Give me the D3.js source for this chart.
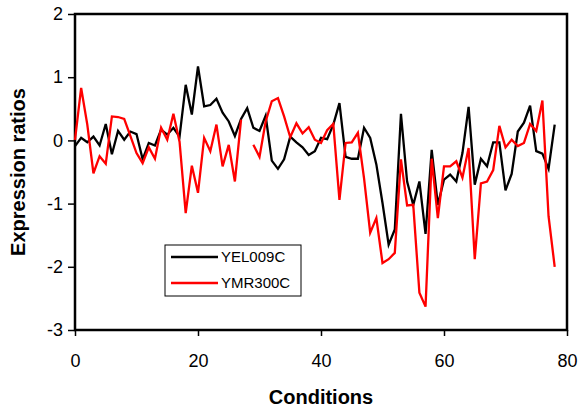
<!DOCTYPE html>
<html>
<head>
<meta charset="utf-8">
<script src="https://cdn.jsdelivr.net/npm/d3@7/dist/d3.min.js"></script>
<style>
  body { margin: 0; background: #fff; font-family: "Liberation Sans", Arial, sans-serif; }
</style>
</head>
<body>
<div id="chart"></div>
<script>
// expression ratios per condition (index = condition number 0..78)
var yel009c = [-0.09, 0.04, -0.03, 0.06, -0.08, 0.26, -0.22, 0.15, 0.01, 0.14,
  0.1, -0.3, -0.04, -0.08, 0.17, 0.09, 0.2, 0.06, 0.88, 0.41,
  1.17, 0.54, 0.56, 0.66, 0.44, 0.3, 0.07, 0.34, 0.51, 0.2,
  0.15, 0.39, -0.32, -0.45, -0.3, 0.06, -0.03, -0.11, -0.23, -0.17,
  0.04, 0.02, 0.25, 0.59, -0.26, -0.29, -0.29, 0.2, 0.04, -0.38,
  -0.99, -1.65, -1.41, 0.42, -0.65, -1.02, -0.65, -1.48, -0.15, -1.02,
  -0.62, -0.54, -0.65, -0.2, 0.53, -0.7, -0.29, -0.41, -0.03, -0.03,
  -0.79, -0.53, 0.14, 0.28, 0.55, -0.17, -0.21, -0.45, 0.25];

var ymr300c = [0.01, 0.83, 0.25, -0.52, -0.25, -0.37, 0.38, 0.37, 0.34, 0.07,
  -0.2, -0.36, -0.11, -0.29, 0.2, 0.01, 0.42, -0.02, -1.15, -0.4,
  -0.83, 0.04, -0.17, 0.25, -0.41, -0.07, -0.65, 0.33, null, -0.07,
  -0.26, 0.3, 0.62, 0.67, 0.38, 0.05, 0.27, 0.11, 0.21, 0.01,
  -0.04, 0.16, 0.26, -0.94, -0.04, -0.03, 0.12, -0.6, -1.46, -1.23,
  -1.94, -1.88, -1.78, -0.3, -1.03, -1.02, -2.41, -2.63, -0.29, -1.23,
  -0.41, -0.41, -0.33, -0.59, -0.12, -1.88, -0.68, -0.65, -0.47, 0.23,
  -0.11, 0.01, -0.09, -0.04, 0.26, 0.15, 0.63, -1.2, -2.0];

var seriesNames = ["YEL009C", "YMR300C"];
var seriesColors = ["#000000", "#ff0000"];
var xTicks = [0, 20, 40, 60, 80];
var yTicks = [-3, -2, -1, 0, 1, 2];

var margin = {top: 14, right: 12, bottom: 85, left: 75},
    width = 579 - margin.left - margin.right,
    height = 415 - margin.top - margin.bottom;

var svg = d3.select("#chart").append("svg")
    .attr("width", 579)
    .attr("height", 415);

var g = svg.append("g")
    .attr("transform", "translate(" + margin.left + "," + margin.top + ")");

var x = d3.scaleLinear().domain([0, 80]).range([0, width]);
var y = d3.scaleLinear().domain([-3, 2]).range([height, 0]);

var fmt = function(d) { return String(d); };
var xAxis = d3.axisBottom(x).tickValues(xTicks).tickFormat(fmt).tickSize(6).tickSizeOuter(0).tickPadding(18);
var yAxis = d3.axisLeft(y).tickValues(yTicks).tickFormat(fmt).tickSize(7).tickSizeOuter(0).tickPadding(5);

g.append("g")
    .attr("class", "x-ax")
    .attr("transform", "translate(0," + height + ")")
    .call(xAxis);
g.append("g")
    .attr("class", "y-ax")
    .call(yAxis);

d3.selectAll(".tick line").attr("stroke", "#000").attr("stroke-width", 1.5);
d3.selectAll(".domain").attr("stroke", "none");
d3.selectAll(".tick text")
    .attr("fill", "#000")
    .style("font-family", "Liberation Sans, Arial, sans-serif")
    .style("font-size", "18px");

// frame
g.append("rect")
    .attr("x", 0).attr("y", 0)
    .attr("width", width).attr("height", height)
    .attr("fill", "none")
    .attr("stroke", "#000")
    .attr("stroke-width", 2.5);

var line = d3.line()
    .defined(function(d) { return d != null; })
    .x(function(d, i) { return x(i); })
    .y(function(d) { return y(d); });

[yel009c, ymr300c].forEach(function(s, k) {
  g.append("path")
      .datum(s)
      .attr("d", line)
      .attr("fill", "none")
      .attr("stroke", seriesColors[k])
      .attr("stroke-width", 2.3)
      .attr("stroke-linejoin", "miter");
});

// legend
var leg = svg.append("g").attr("transform", "translate(165,245)");
leg.append("rect")
    .attr("width", 136).attr("height", 51)
    .attr("fill", "#fff")
    .attr("stroke", "#000")
    .attr("stroke-width", 1);
seriesNames.forEach(function(name, k) {
  var ly = 12 + k * 26;
  leg.append("line")
      .attr("x1", 6).attr("x2", 53)
      .attr("y1", ly).attr("y2", ly)
      .attr("stroke", seriesColors[k])
      .attr("stroke-width", 2.3);
  leg.append("text")
      .attr("x", 56).attr("y", ly + 5)
      .text(name)
      .style("font-size", "15px")
      .attr("fill", "#000");
});

// axis titles
svg.append("text")
    .attr("x", margin.left + width / 2)
    .attr("y", 404)
    .attr("text-anchor", "middle")
    .style("font-size", "20px")
    .style("font-weight", "bold")
    .text("Conditions");

svg.append("text")
    .attr("transform", "translate(25," + (margin.top + height / 2) + ") rotate(-90)")
    .attr("text-anchor", "middle")
    .style("font-size", "20px")
    .style("font-weight", "bold")
    .text("Expression ratios");
</script>
</body>
</html>
